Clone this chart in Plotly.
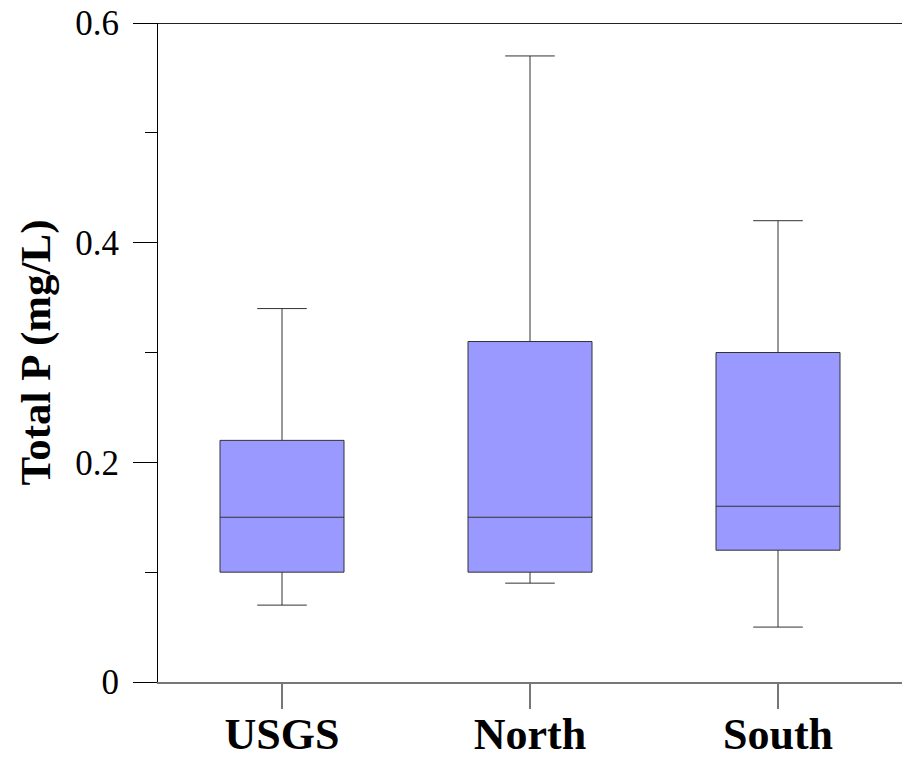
import plotly.graph_objects as go

categories = ["USGS", "North", "South"]
q1 = [0.10, 0.10, 0.12]
median = [0.15, 0.15, 0.16]
q3 = [0.22, 0.31, 0.30]
lower = [0.07, 0.09, 0.05]
upper = [0.34, 0.57, 0.42]
y_ticks = [0, 0.2, 0.4, 0.6]
y_tick_labels = ["0", "0.2", "0.4", "0.6"]

xpos = list(range(len(categories)))

fig = go.Figure()
fig.add_trace(go.Box(
    x=xpos,
    q1=q1, median=median, q3=q3,
    lowerfence=lower, upperfence=upper,
    fillcolor="#9999ff",
    line=dict(color="#333333", width=1),
    whiskerwidth=0.4,
    width=0.5,
    boxpoints=False,
    showlegend=False,
    hoverinfo="skip",
))

fig.update_layout(
    width=902, height=761,
    margin=dict(l=158, r=0, t=23, b=79),
    paper_bgcolor="white", plot_bgcolor="white",
    font=dict(family="Liberation Serif", color="black"),
    xaxis=dict(
        range=[-0.5, 2.5],
        tickvals=xpos, ticktext=["<b>%s</b>" % c for c in categories],
        tickfont=dict(size=44, family="Liberation Serif"),
        ticks="outside", ticklen=25, tickcolor="#777777", tickwidth=1.5,
        ticklabelstandoff=-13,
        showline=True, linecolor="#777777", linewidth=1.5,
        showgrid=False, zeroline=False, automargin=False,
    ),
    yaxis=dict(
        range=[0, 0.6],
        tickvals=y_ticks, ticktext=y_tick_labels,
        tickfont=dict(size=35, family="Liberation Serif"),
        ticks="outside", ticklen=24, tickcolor="black", tickwidth=1,
        ticklabelstandoff=7,
        minor=dict(dtick=0.1, tick0=0, ticks="outside", ticklen=12, tickcolor="black", tickwidth=1, showgrid=False),
        showline=True, linecolor="black", linewidth=1,
        showgrid=False, zeroline=False, automargin=False,
        title=dict(text="<b>Total P (mg/L)</b>", font=dict(size=43, family="Liberation Serif"), standoff=11),
    ),
    shapes=[dict(type="line", xref="paper", yref="y", x0=0, x1=1, y0=0.6, y1=0.6,
                 line=dict(color="#222222", width=2))],
)

fig.write_html("out.html")
